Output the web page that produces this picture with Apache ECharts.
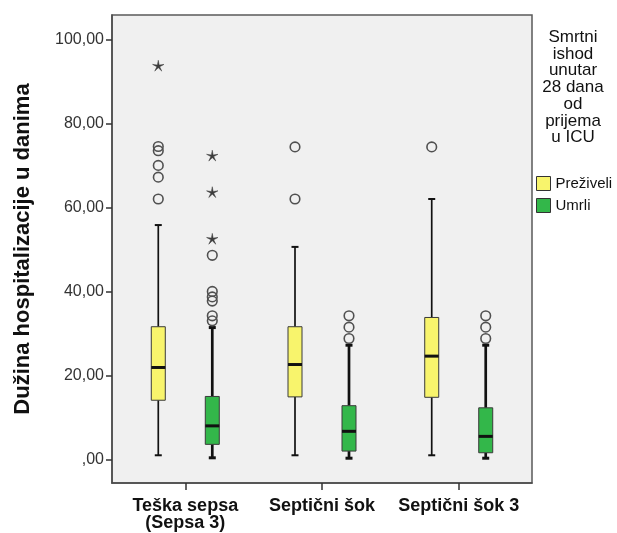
<!DOCTYPE html>
<html>
<head>
<meta charset="utf-8">
<script src="https://cdn.jsdelivr.net/npm/echarts@6/dist/echarts.min.js"></script>
<style>
  html, body { margin: 0; padding: 0; background: #ffffff; }
  #chart { width: 617px; height: 533px; }
</style>
</head>
<body>
<div id="chart"></div>
<script>
// Hospital stay (days) by sepsis category and 28-day ICU outcome
const categories = ['Teška sepsa\n(Sepsa 3)', 'Septični šok', 'Septični šok 3'];
const groupNames = ['Preživeli', 'Umrli'];
const yTicks = [0, 20, 40, 60, 80, 100];

// [min whisker, Q1, median, Q3, max whisker] per category
const survivedBoxes = [
  [1.0, 14.1, 21.9, 31.6, 55.8],
  [1.0, 14.9, 22.6, 31.6, 50.6],
  [1.0, 14.8, 24.6, 33.8, 62.0]
];
const diedBoxes = [
  [0.4, 3.6, 8.0, 15.0, 31.4],
  [0.3, 2.0, 6.7, 12.8, 27.2],
  [0.3, 1.6, 5.5, 12.3, 27.2]
];

// [category index, value]
const survivedOutliers = [[0, 74.5], [0, 73.5], [0, 70.0], [0, 67.2], [0, 62.0], [1, 74.4], [1, 62.0], [2, 74.4]];
const survivedExtremes = [[0, 93.6]];
const diedOutliers = [[0, 48.6], [0, 40.0], [0, 38.7], [0, 37.7], [0, 34.2], [0, 33.0],
                      [1, 34.2], [1, 31.5], [1, 28.8], [2, 34.2], [2, 31.5], [2, 28.8]];
const diedExtremes = [[0, 72.2], [0, 63.5], [0, 52.4]];

const colors = ['#f8f46c', '#33b74a'];
const FONT = '"Liberation Sans", Arial, sans-serif';
const OFFSET = 27;   // px from category centre to each box centre
const HALF_BOX = 7;  // half box width, px

function boxItem(side, whiskerWidth, capWidth) {
  return function (params, api) {
    const cat = api.value(0);
    const cx = api.coord([cat, 0])[0] + side * OFFSET;
    const y = (k) => api.coord([cat, api.value(k)])[1];
    const yLow = y(1), yQ1 = y(2), yMed = y(3), yQ3 = y(4), yHigh = y(5);
    const line = (x1, y1, x2, y2, w) => ({
      type: 'line', shape: { x1, y1, x2, y2 },
      style: { stroke: '#111', lineWidth: w }
    });
    return {
      type: 'group',
      children: [
        line(cx, yQ3, cx, yHigh, whiskerWidth),
        line(cx, yQ1, cx, yLow, whiskerWidth),
        line(cx - 3.5, yHigh, cx + 3.5, yHigh, capWidth),
        line(cx - 3.5, yLow, cx + 3.5, yLow, capWidth),
        {
          type: 'rect',
          shape: { x: cx - HALF_BOX, y: yQ3, width: HALF_BOX * 2, height: yQ1 - yQ3 },
          style: { fill: api.visual('color'), stroke: '#3a3a3a', lineWidth: 1 }
        },
        line(cx - HALF_BOX, yMed, cx + HALF_BOX, yMed, 3)
      ]
    };
  };
}

function starPath(cx, cy, R, r) {
  let d = '';
  for (let i = 0; i < 10; i++) {
    const a = -Math.PI / 2 + i * Math.PI / 5;
    const rad = i % 2 === 0 ? R : r;
    d += (i === 0 ? 'M' : 'L') + (cx + rad * Math.cos(a)).toFixed(2) + ' ' + (cy + rad * Math.sin(a)).toFixed(2);
  }
  return d + 'Z';
}

function outlierItem(side, star) {
  return function (params, api) {
    const p = api.coord([api.value(0), api.value(1)]);
    const cx = p[0] + side * OFFSET;
    if (star) {
      return {
        type: 'path',
        shape: { pathData: starPath(cx, p[1], 6, 1.5) },
        style: { fill: '#3c3c3c', stroke: '#3c3c3c', lineWidth: 0.5 }
      };
    }
    return {
      type: 'circle',
      shape: { cx: cx, cy: p[1], r: 4.8 },
      style: { fill: 'none', stroke: '#505050', lineWidth: 1.6 }
    };
  };
}

const toRows = (boxes) => boxes.map((b, i) => [i].concat(b));

const chart = echarts.init(document.getElementById('chart'), null, { renderer: 'canvas' });
chart.setOption({
  backgroundColor: '#ffffff',
  animation: false,
  textStyle: { fontFamily: FONT },
  grid: {
    left: 112, right: 85, top: 15, bottom: 50,
    show: true, backgroundColor: '#f0f0f0', borderColor: '#5a5a5a', borderWidth: 1.5
  },
  xAxis: {
    type: 'value',
    min: -0.536, max: 2.536,
    splitLine: { show: false },
    axisLine: { show: true, onZero: false, lineStyle: { color: '#4a4a4a', width: 1.5 } },
    axisTick: { show: true, customValues: [0, 1, 2], length: 7, lineStyle: { color: '#333', width: 1.5 } },
    axisLabel: {
      customValues: [0, 1, 2],
      formatter: (v) => categories[Math.round(v)],
      margin: 15, color: '#111', fontWeight: 'bold', fontSize: 18, lineHeight: 17, fontFamily: FONT
    }
  },
  yAxis: {
    type: 'value',
    min: -5.6, max: 105.8,
    name: 'Dužina hospitalizacije u danima',
    nameLocation: 'middle', nameRotate: 90, nameGap: 78,
    nameTextStyle: { fontWeight: 'bold', fontSize: 22, color: '#111', fontFamily: FONT },
    splitLine: { show: false },
    axisLine: { show: true, onZero: false, lineStyle: { color: '#4a4a4a', width: 1.5 } },
    axisTick: { show: true, customValues: yTicks, length: 6, lineStyle: { color: '#333', width: 1.5 } },
    axisLabel: {
      customValues: yTicks,
      formatter: (v) => v === 0 ? ',00' : v.toFixed(2).replace('.', ','),
      margin: 8, color: '#333', fontSize: 16, fontFamily: FONT
    }
  },
  legend: {
    orient: 'vertical', left: 536, top: 176,
    itemWidth: 14, itemHeight: 14, itemGap: 7, padding: 0,
    icon: 'rect',
    itemStyle: { borderColor: '#333', borderWidth: 1 },
    textStyle: { fontSize: 15, color: '#111', fontFamily: FONT },
    data: groupNames
  },
  graphic: [{
    type: 'text', x: 573, y: 29,
    style: {
      text: 'Smrtni\nishod\nunutar\n28 dana\nod\nprijema\nu ICU',
      align: 'center', verticalAlign: 'top',
      font: '17px ' + FONT, lineHeight: 16.7, fill: '#111'
    }
  }],
  series: [
    { name: groupNames[0], type: 'custom', color: colors[0], itemStyle: { color: colors[0] },
      data: toRows(survivedBoxes), renderItem: boxItem(-1, 1.7, 2), encode: { x: 0, y: [1, 2, 3, 4, 5] } },
    { name: groupNames[1], type: 'custom', color: colors[1], itemStyle: { color: colors[1] },
      data: toRows(diedBoxes), renderItem: boxItem(1, 2.7, 3), encode: { x: 0, y: [1, 2, 3, 4, 5] } },
    { type: 'custom', data: survivedOutliers, renderItem: outlierItem(-1, false), encode: { x: 0, y: 1 } },
    { type: 'custom', data: survivedExtremes, renderItem: outlierItem(-1, true), encode: { x: 0, y: 1 } },
    { type: 'custom', data: diedOutliers, renderItem: outlierItem(1, false), encode: { x: 0, y: 1 } },
    { type: 'custom', data: diedExtremes, renderItem: outlierItem(1, true), encode: { x: 0, y: 1 } }
  ]
});
</script>
</body>
</html>
